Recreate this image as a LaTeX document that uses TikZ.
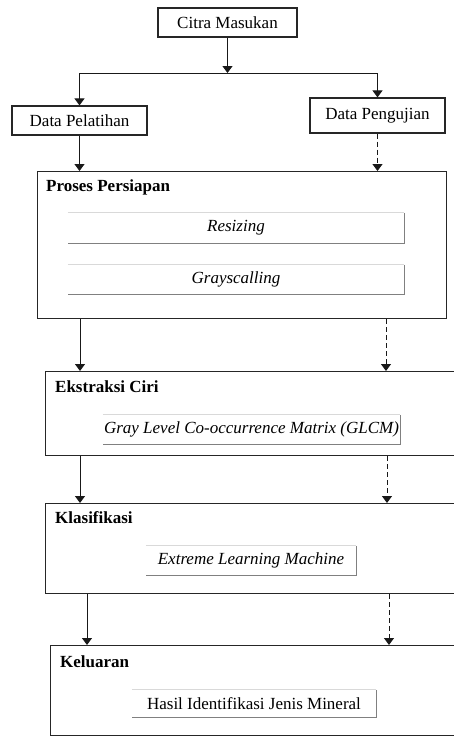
\documentclass[tikz,border=0pt]{standalone}
\usepackage{fontspec}
\setmainfont{Liberation Serif}
\usetikzlibrary{arrows.meta,positioning}

\tikzset{
  every node/.style={font=\fontsize{17}{20}\selectfont, inner sep=0pt},
  frame/.style={draw=black!85, line width=1.2pt, anchor=north west},
  databox/.style={draw=black!85, line width=1.2pt, minimum height=29pt},
  subbox/.style={minimum height=29pt},
  title/.style={anchor=base west, font=\fontsize{17}{20}\selectfont\bfseries},
  arr/.style={-{Triangle[width=10pt,length=7pt]}, line width=1pt, black!90},
  darr/.style={arr, dash pattern=on 5pt off 3pt}
}

% raised look of the inner boxes: pale top, grey right and bottom
\newcommand{\liftframe}[1]{
  \draw [black!15, line width=1pt] (#1.north west) -- (#1.north east);
  \draw [black!50, line width=1.3pt] (#1.north east) -- (#1.south east) -- (#1.south west);
}

\begin{document}
\begin{tikzpicture}[x=1pt, y=1pt]
  \path [use as bounding box] (0,0) rectangle (454,-737);
  \clip (0,0) rectangle (454,-737);

  % input and the two data sets
  \node [databox, minimum width=139pt] (citra) at (227.5,-22.5) {Citra Masukan};
  \coordinate (fork) at (227.5,-73);
  \node [databox, minimum width=135pt] (latih) at (79.5,-120.5) {Data Pelatihan};
  \node [databox, minimum width=135pt, minimum height=35pt] (uji) at (377.5,-115.5) {Data Pengujian};

  % stage frames
  \node [frame, minimum width=409pt, minimum height=147pt] (persiapan) at (37,-171) {};
  \node [frame, minimum width=425pt, minimum height=84pt] (ekstraksi) at (45,-371) {};
  \node [frame, minimum width=425pt, minimum height=90pt] (klasifikasi) at (45,-503) {};
  \node [frame, minimum width=420pt, minimum height=90pt] (keluaran) at (50,-645) {};

  \node [title] at ([xshift=9pt, yshift=-20pt]persiapan.north west) {Proses Persiapan};
  \node [title] at ([xshift=10pt, yshift=-21pt]ekstraksi.north west) {Ekstraksi Ciri};
  \node [title] at ([xshift=10pt, yshift=-20pt]klasifikasi.north west) {Klasifikasi};
  \node [title] at ([xshift=10pt, yshift=-22pt]keluaran.north west) {Keluaran};

  % inner steps
  \node [subbox, minimum width=336pt, minimum height=30pt] (resize) at (236,-228) {\itshape Resizing};
  \node [subbox, minimum width=336pt] (gray) at (236,-279.5) {\itshape Grayscalling};
  \node [subbox, minimum width=297pt] (glcm) at (251.5,-429.5) {\itshape Gray Level Co-occurrence Matrix (GLCM)};
  \node [subbox, minimum width=210pt] (elm) at (251,-560.5) {\itshape Extreme Learning Machine};
  \node [subbox, minimum width=244pt, minimum height=27pt] (hasil) at (254,-703.5) {Hasil Identifikasi Jenis Mineral};
  \liftframe{resize}
  \liftframe{gray}
  \liftframe{glcm}
  \liftframe{elm}
  \liftframe{hasil}

  % connectors
  \draw [arr] (citra) -- (fork);
  \draw [arr] (fork) -| (latih.north);
  \draw [arr] (fork) -| (uji.north);
  \draw [arr] (latih.south) -- (latih.south |- persiapan.north);
  \draw [darr] (uji.south) -- (uji.south |- persiapan.north);

  \draw [arr] ([xshift=43pt]persiapan.south west) -- ([xshift=43pt]persiapan.south west |- ekstraksi.north);
  \draw [darr] ([xshift=349pt]persiapan.south west) -- ([xshift=349pt]persiapan.south west |- ekstraksi.north);
  \draw [arr] ([xshift=35pt]ekstraksi.south west) -- ([xshift=35pt]ekstraksi.south west |- klasifikasi.north);
  \draw [darr] ([xshift=342pt]ekstraksi.south west) -- ([xshift=342pt]ekstraksi.south west |- klasifikasi.north);
  \draw [arr] ([xshift=42pt]klasifikasi.south west) -- ([xshift=42pt]klasifikasi.south west |- keluaran.north);
  \draw [darr] ([xshift=344pt]klasifikasi.south west) -- ([xshift=344pt]klasifikasi.south west |- keluaran.north);
\end{tikzpicture}
\end{document}
